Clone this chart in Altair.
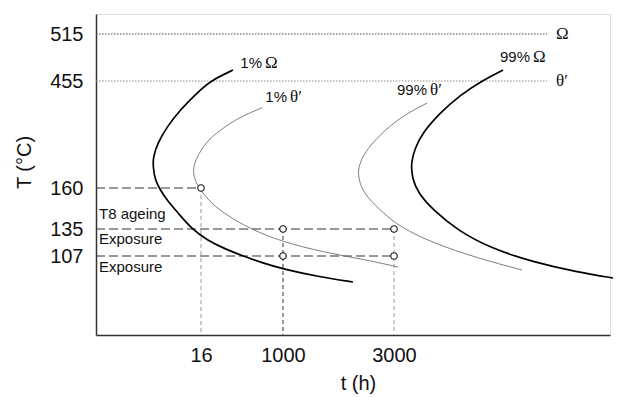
import altair as alt
import pandas as pd

# ---- axis ticks (schematic, non-linear axes) ----
t_ticks = [16, 1000, 3000]
T_ticks = [107, 135, 160, 455, 515]

# piecewise-linear schematic scales: break values of the axes
t_breaks = [0, 16, 1000, 3000, 5700]
T_breaks = [28, 107, 135, 160, 455, 515, 540]
x_range = [0, 105, 187, 298, 514]
y_range = [321, 242, 215, 174, 67, 20, 0]

# ---- transformation curves, t (h) and T (°C) ----
omega1_t = [400, 124, 15.4, 12.8, 10.8, 9.4, 8.7, 8.7, 9.0, 9.8, 10.8, 12.5, 14.6,
            88, 304, 520, 760, 1000, 1667, 2261]
omega1_T = [469, 455, 422, 375, 328, 284, 245, 218, 182, 158.8, 152.7, 144.8, 135,
            123.6, 114.3, 107, 100, 94, 86, 81]

theta1_t = [748, 484, 244, 64, 15.4, 14.8, 14.9, 15.7, 100, 280, 604, 1000, 1721, 2514, 3050]
theta1_T = [381, 356, 320, 284, 245, 218, 188, 160, 152.7, 144.8, 135, 121.5, 111.1, 103, 96]

theta99_t = [3413, 3200, 2982, 2694, 2477, 2369, 2351, 2405, 2514, 2802, 3075, 3488, 4038, 4600]
theta99_T = [394, 370, 339, 298, 259, 223, 196, 163, 154.5, 144.8, 136.2, 120.5, 105, 93]

omega99_t = [4363, 4113, 3825, 3575, 3363, 3263, 3213, 3225, 3300, 3488, 3788, 4200,
             4738, 5288, 5738]
omega99_T = [469, 456, 416, 367, 314, 270, 232, 188, 157, 146.6, 134, 115.3, 101, 91, 85]

# ---- solvus lines ----
solvus_T = [515, 455]
solvus_name = ["Ω", "θ′"]
solvus_end = [4913, 4913]
solvus_label_t = [5025, 5025]

# ---- exposure / ageing points ----
pts_t = [16, 1000, 1000, 3000, 3000]
pts_T = [160, 135, 107, 135, 107]

h_lines_T = [160, 135, 107]
h_lines_end = [16, 3000, 3000]
v_lines_t = [16, 1000, 3000]
v_lines_top = [160, 135, 135]
v_lines_color = ["#9a9a9a", "#333333", "#9a9a9a"]

# ---- annotations ----
ann_text = ["T8 ageing", "Exposure", "Exposure"]
ann_T = [144, 124.6, 96]

lab_num = ["1%", "1%", "99%", "99%"]
lab_greek = ["Ω", "θ′", "Ω", "θ′"]
lab_t = [760, 1090, 4713, 3425]
lab_T = [478, 411, 486, 430]

# ---------------------------------------------------------------
xs = alt.Scale(domain=t_breaks, range=x_range, nice=False, zero=False)
ys = alt.Scale(domain=T_breaks, range=y_range, nice=False, zero=False)

x_axis = alt.Axis(values=t_ticks, format="d", ticks=False, grid=False, labelOverlap=False,
                  labelFontSize=20, labelPadding=10, labelColor="#111",
                  titleFontSize=20, titleFontWeight="normal", titlePadding=8, titleColor="#111",
                  titleX=262, domainColor="#333", domainWidth=1.5, labelFlush=False,
                  labelBound=False)
y_axis = alt.Axis(values=T_ticks, format="d", ticks=False, grid=False, labelOverlap=False,
                  labelFontSize=20, labelPadding=13, labelColor="#111",
                  titleFontSize=20, titleFontWeight="normal", titlePadding=15, titleColor="#111",
                  titleY=148, domainColor="#333", domainWidth=1.5, labelFlush=False,
                  labelBound=False)


def X(f):
    return alt.X(f, type="quantitative", scale=xs, axis=x_axis, title="t (h)")


def Y(f):
    return alt.Y(f, type="quantitative", scale=ys, axis=y_axis, title="T (°C)")


rows = []
for name, phase, ts, Ts in [("1% Ω", "omega", omega1_t, omega1_T),
                            ("1% θ′", "theta", theta1_t, theta1_T),
                            ("99% θ′", "theta", theta99_t, theta99_T),
                            ("99% Ω", "omega", omega99_t, omega99_T)]:
    for i, (a, b) in enumerate(zip(ts, Ts)):
        rows.append({"curve": name, "phase": phase, "idx": i, "t": a, "T": b})
curves = pd.DataFrame(rows)

solvus = pd.DataFrame({"T": solvus_T, "t0": [0] * len(solvus_T), "t1": solvus_end,
                       "name": solvus_name, "tl": solvus_label_t,
                       "col": ["#444444", "#8a8a8a"]})
hl = pd.DataFrame({"T": h_lines_T, "t0": [0] * 3, "t1": h_lines_end})
vl = pd.DataFrame({"t": v_lines_t, "T": v_lines_top, "Tb": [T_breaks[0]] * 3, "col": v_lines_color})
pts = pd.DataFrame({"t": pts_t, "T": pts_T})
ann = pd.DataFrame({"t": [0] * 3, "T": ann_T, "text": ann_text})
labs = pd.DataFrame({"t": lab_t, "T": lab_T, "num": lab_num, "greek": lab_greek})

solvus_lines = alt.Chart(solvus).mark_rule(strokeDash=[1.5, 1.5], strokeWidth=1).encode(
    x=X("t0"), x2="t1", y=Y("T"), color=alt.Color("col:N", scale=None))
solvus_text = alt.Chart(solvus).mark_text(align="left", baseline="middle", font="Liberation Serif",
                                          fontSize=17, color="#111").encode(
    x=X("tl"), y=Y("T"), text="name:N")

h_dash = alt.Chart(hl).mark_rule(strokeDash=[9, 4], strokeWidth=1, color="#333").encode(
    x=X("t0"), x2="t1", y=Y("T"))
v_dash = alt.Chart(vl).mark_rule(strokeDash=[4, 3], strokeWidth=1).encode(
    x=X("t"), y=Y("T"), y2="Tb", color=alt.Color("col:N", scale=None))

omega_lines = alt.Chart(curves).transform_filter(alt.datum.phase == "omega").mark_line(
    color="#000", strokeWidth=1.7, interpolate="basis").encode(
    x=X("t"), y=Y("T"), detail="curve:N", order="idx:Q")
theta_lines = alt.Chart(curves).transform_filter(alt.datum.phase == "theta").mark_line(
    color="#6f6f6f", strokeWidth=0.9, interpolate="basis").encode(
    x=X("t"), y=Y("T"), detail="curve:N", order="idx:Q")

circles = alt.Chart(pts).mark_point(shape="circle", filled=True, fill="white", stroke="#111",
                                    strokeWidth=1.1, size=42, opacity=1).encode(
    x=X("t"), y=Y("T"))

ann_text_l = alt.Chart(ann).mark_text(align="left", baseline="middle", dx=3, fontSize=15,
                                      font="Liberation Sans", color="#111").encode(
    x=X("t"), y=Y("T"), text="text:N")

lab_num_l = alt.Chart(labs).mark_text(align="right", baseline="middle", dx=-1, fontSize=15,
                                      font="Liberation Sans", color="#111").encode(
    x=X("t"), y=Y("T"), text="num:N")
lab_greek_l = alt.Chart(labs).mark_text(align="left", baseline="middle", dx=2, fontSize=17,
                                        font="Liberation Serif", color="#111").encode(
    x=X("t"), y=Y("T"), text="greek:N")

chart = alt.layer(
    solvus_lines, h_dash, v_dash, theta_lines, omega_lines, circles,
    solvus_text, ann_text_l, lab_num_l, lab_greek_l
).properties(
    width=514, height=321,
    autosize=alt.AutoSizeParams(type="none"),
    padding={"left": 96, "top": 14, "right": 8, "bottom": 62},
).configure_view(stroke=None).configure(font="Liberation Sans", background="white")

chart.save("out.html", embed_options={"renderer": "svg", "actions": False})
